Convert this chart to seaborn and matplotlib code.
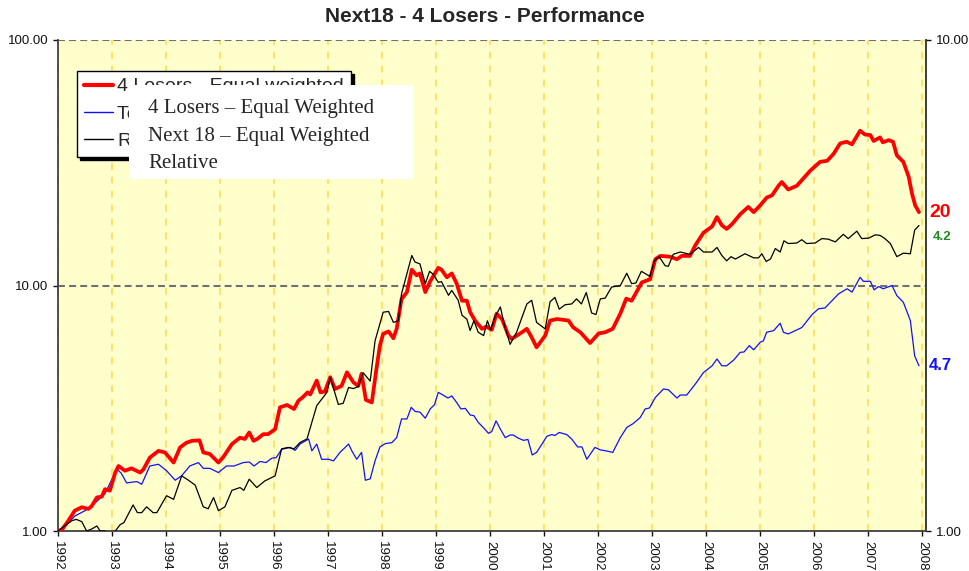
import pandas as pd
import matplotlib
matplotlib.use("Agg")
import matplotlib.pyplot as plt
import seaborn as sns
from matplotlib.patches import Rectangle
from matplotlib.ticker import FixedLocator, NullLocator, FormatStrFormatter
from matplotlib.lines import Line2D

# --- data (decimal years, index levels) ---
losers_t = [1992.00, 1992.07, 1992.19, 1992.31, 1992.44, 1992.56, 1992.62, 1992.72, 1992.81, 1992.87,
            1992.96, 1993.06, 1993.12, 1993.24, 1993.36, 1993.52, 1993.58, 1993.70, 1993.86, 1993.98,
            1994.14, 1994.26, 1994.38, 1994.48, 1994.62, 1994.69, 1994.81, 1994.97, 1995.06, 1995.22,
            1995.37, 1995.46, 1995.54, 1995.62, 1995.70, 1995.80, 1995.89, 1996.02, 1996.11, 1996.24,
            1996.37, 1996.45, 1996.54, 1996.62, 1996.67, 1996.79, 1996.86, 1996.94, 1997.04, 1997.13,
            1997.25, 1997.35, 1997.47, 1997.56, 1997.62, 1997.70, 1997.81, 1997.90, 1997.96, 1998.02,
            1998.12, 1998.21, 1998.27, 1998.36, 1998.46, 1998.55, 1998.64, 1998.70, 1998.80, 1998.89,
            1999.04, 1999.10, 1999.20, 1999.29, 1999.38, 1999.48, 1999.57, 1999.63, 1999.72, 1999.85,
            1999.93, 2000.03, 2000.12, 2000.22, 2000.34, 2000.40, 2000.59, 2000.68, 2000.77, 2000.86,
            2001.02, 2001.11, 2001.24, 2001.45, 2001.54, 2001.67, 2001.85, 2002.01, 2002.13, 2002.27,
            2002.41, 2002.52, 2002.62, 2002.72, 2002.81, 2002.96, 2003.06, 2003.15, 2003.33, 2003.46,
            2003.55, 2003.70, 2003.80, 2003.95, 2004.11, 2004.20, 2004.29, 2004.38, 2004.48, 2004.63,
            2004.78, 2004.88, 2005.00, 2005.12, 2005.22, 2005.34, 2005.40, 2005.52, 2005.68, 2005.80,
            2005.93, 2006.11, 2006.24, 2006.36, 2006.48, 2006.60, 2006.70, 2006.85, 2006.94, 2007.04,
            2007.10, 2007.22, 2007.27, 2007.38, 2007.46, 2007.53, 2007.65, 2007.75, 2007.81, 2007.87,
            2007.94]
losers_v = [1.00, 1.01, 1.10, 1.21, 1.25, 1.23, 1.26, 1.37, 1.38, 1.48,
            1.46, 1.73, 1.84, 1.76, 1.80, 1.73, 1.78, 1.99, 2.12, 2.09,
            1.90, 2.19, 2.29, 2.33, 2.34, 2.09, 2.06, 1.90, 2.00, 2.26,
            2.40, 2.37, 2.52, 2.33, 2.38, 2.48, 2.48, 2.60, 3.19, 3.26,
            3.14, 3.39, 3.52, 3.67, 3.60, 4.10, 3.67, 3.70, 4.23, 3.79,
            3.90, 4.43, 4.03, 3.90, 4.37, 3.42, 3.34, 4.65, 5.70, 6.35,
            6.50, 6.10, 6.66, 8.80, 9.40, 11.6, 11.0, 11.2, 9.40, 10.4,
            11.8, 11.6, 10.8, 11.2, 10.2, 8.67, 8.67, 7.80, 7.20, 6.66,
            6.80, 6.60, 7.68, 7.30, 6.25, 6.06, 6.45, 6.66, 6.15, 5.60,
            6.25, 7.20, 7.30, 7.20, 6.75, 6.45, 5.83, 6.38, 6.45, 6.66,
            7.68, 8.84, 8.67, 9.50, 10.3, 10.6, 12.8, 13.2, 13.1, 12.8,
            13.2, 13.2, 14.6, 16.4, 17.4, 19.0, 17.6, 17.0, 17.8, 19.5,
            20.9, 19.9, 21.2, 22.8, 23.3, 25.5, 26.4, 24.6, 25.5, 27.3,
            29.4, 31.9, 32.2, 34.4, 37.9, 38.5, 37.6, 42.7, 41.2, 41.0,
            38.8, 40.1, 38.3, 39.1, 38.5, 33.9, 31.9, 27.7, 23.7, 21.2,
            19.9]

next18_t = [1992.00, 1992.19, 1992.31, 1992.50, 1992.72, 1992.87, 1993.09, 1993.17, 1993.27, 1993.46,
            1993.55, 1993.70, 1993.86, 1994.01, 1994.17, 1994.29, 1994.44, 1994.60, 1994.69, 1994.81,
            1994.97, 1995.12, 1995.26, 1995.43, 1995.54, 1995.63, 1995.74, 1995.85, 1995.96, 1996.04,
            1996.14, 1996.30, 1996.39, 1996.48, 1996.64, 1996.70, 1996.79, 1996.88, 1997.01, 1997.10,
            1997.22, 1997.38, 1997.44, 1997.53, 1997.62, 1997.69, 1997.78, 1997.87, 1997.96, 1998.06,
            1998.18, 1998.27, 1998.36, 1998.46, 1998.54, 1998.61, 1998.70, 1998.80, 1998.89, 1998.97,
            1999.04, 1999.11, 1999.22, 1999.29, 1999.38, 1999.46, 1999.54, 1999.63, 1999.70, 1999.78,
            1999.88, 1999.97, 2000.03, 2000.11, 2000.19, 2000.28, 2000.37, 2000.43, 2000.52, 2000.62,
            2000.70, 2000.78, 2000.86, 2000.96, 2001.05, 2001.14, 2001.20, 2001.28, 2001.42, 2001.51,
            2001.62, 2001.70, 2001.79, 2001.94, 2002.04, 2002.15, 2002.27, 2002.41, 2002.53, 2002.65,
            2002.78, 2002.87, 2002.95, 2003.06, 2003.21, 2003.30, 2003.46, 2003.52, 2003.64, 2003.80,
            2003.95, 2004.11, 2004.20, 2004.29, 2004.38, 2004.51, 2004.63, 2004.70, 2004.80, 2004.88,
            2005.00, 2005.06, 2005.12, 2005.25, 2005.37, 2005.43, 2005.52, 2005.68, 2005.77, 2005.96,
            2006.08, 2006.20, 2006.45, 2006.61, 2006.70, 2006.85, 2006.91, 2007.04, 2007.11, 2007.19,
            2007.28, 2007.44, 2007.53, 2007.65, 2007.78, 2007.86, 2007.94]
next18_v = [1.00, 1.08, 1.15, 1.21, 1.32, 1.42, 1.79, 1.72, 1.57, 1.59,
            1.55, 1.84, 1.87, 1.76, 1.61, 1.68, 1.84, 1.90, 1.80, 1.80,
            1.73, 1.84, 1.84, 1.90, 1.91, 1.84, 1.92, 1.90, 1.98, 1.99,
            2.15, 2.19, 2.13, 2.26, 2.37, 2.12, 2.26, 1.96, 1.96, 1.93,
            2.09, 2.26, 2.12, 1.96, 2.09, 1.61, 1.63, 1.93, 2.20, 2.27,
            2.29, 2.40, 2.86, 2.86, 3.19, 3.07, 3.05, 2.88, 3.14, 3.27,
            3.67, 3.60, 3.48, 3.55, 3.34, 3.14, 3.16, 2.97, 2.95, 2.77,
            2.63, 2.50, 2.54, 2.81, 2.60, 2.40, 2.46, 2.46, 2.39, 2.34,
            2.36, 2.04, 2.09, 2.26, 2.43, 2.47, 2.45, 2.52, 2.47, 2.37,
            2.20, 2.20, 1.96, 2.19, 2.14, 2.12, 2.09, 2.40, 2.64, 2.74,
            2.90, 3.14, 3.17, 3.50, 3.79, 3.76, 3.48, 3.58, 3.58, 3.97,
            4.42, 4.71, 5.02, 4.71, 4.71, 4.97, 5.34, 5.36, 5.69, 5.47,
            5.87, 5.95, 6.45, 6.55, 7.02, 6.45, 6.35, 6.60, 6.74, 7.61,
            8.04, 8.10, 9.24, 9.70, 9.40, 10.8, 10.4, 10.4, 9.6, 9.9,
            9.7, 10.0, 9.1, 8.55, 7.2, 5.17, 4.71]

relative_t = [1992.00, 1992.15, 1992.26, 1992.34, 1992.44, 1992.53, 1992.63, 1992.72, 1992.78, 1992.87,
              1992.96, 1993.06, 1993.15, 1993.22, 1993.39, 1993.47, 1993.55, 1993.64, 1993.76, 1993.83,
              1994.01, 1994.14, 1994.29, 1994.41, 1994.54, 1994.69, 1994.78, 1994.88, 1994.97, 1995.09,
              1995.22, 1995.37, 1995.44, 1995.54, 1995.68, 1995.83, 1996.02, 1996.14, 1996.26, 1996.37,
              1996.48, 1996.61, 1996.79, 1996.98, 1997.04, 1997.19, 1997.28, 1997.38, 1997.47, 1997.56,
              1997.65, 1997.78, 1997.87, 1998.02, 1998.12, 1998.21, 1998.30, 1998.36, 1998.55, 1998.61,
              1998.70, 1998.80, 1998.88, 1998.95, 1999.04, 1999.10, 1999.23, 1999.29, 1999.41, 1999.48,
              1999.57, 1999.63, 1999.70, 1999.78, 1999.88, 1999.95, 2000.01, 2000.09, 2000.19, 2000.26,
              2000.37, 2000.49, 2000.68, 2000.77, 2000.86, 2001.02, 2001.11, 2001.20, 2001.28, 2001.39,
              2001.51, 2001.60, 2001.69, 2001.78, 2001.88, 2001.96, 2002.04, 2002.13, 2002.25, 2002.41,
              2002.53, 2002.62, 2002.70, 2002.80, 2002.96, 2003.04, 2003.13, 2003.24, 2003.30, 2003.39,
              2003.52, 2003.70, 2003.86, 2003.95, 2004.11, 2004.20, 2004.29, 2004.38, 2004.46, 2004.54,
              2004.72, 2004.88, 2004.97, 2005.03, 2005.11, 2005.19, 2005.28, 2005.37, 2005.44, 2005.52,
              2005.68, 2005.77, 2005.86, 2006.02, 2006.14, 2006.26, 2006.39, 2006.54, 2006.63, 2006.79,
              2006.88, 2007.01, 2007.13, 2007.22, 2007.31, 2007.41, 2007.53, 2007.65, 2007.78, 2007.86,
              2007.94]
relative_v = [1.00, 1.03, 1.05, 1.056, 1.045, 1.00, 1.01, 1.024, 1.00, 1.00,
              0.97, 1.00, 1.03, 1.04, 1.13, 1.09, 1.09, 1.12, 1.09, 1.09,
              1.18, 1.16, 1.295, 1.27, 1.24, 1.12, 1.11, 1.17, 1.10, 1.12,
              1.21, 1.226, 1.21, 1.275, 1.226, 1.265, 1.295, 1.47, 1.48, 1.47,
              1.514, 1.54, 1.80, 1.916, 2.055, 1.81, 1.82, 1.96, 1.95, 1.97,
              2.10, 2.02, 2.44, 2.79, 2.80, 2.66, 2.68, 3.04, 3.64, 3.53,
              3.50, 3.19, 3.38, 3.33, 3.21, 3.22, 3.02, 3.09, 2.95, 2.75,
              2.70, 2.56, 2.68, 2.54, 2.50, 2.68, 2.57, 2.73, 2.86, 2.64,
              2.40, 2.54, 2.90, 2.95, 2.66, 2.58, 2.93, 2.99, 2.83, 2.89,
              2.90, 2.97, 2.90, 3.06, 2.78, 2.76, 2.97, 2.98, 3.14, 3.16,
              3.35, 3.19, 3.20, 3.38, 3.30, 3.55, 3.62, 3.47, 3.46, 3.66,
              3.70, 3.66, 3.78, 3.70, 3.70, 3.78, 3.64, 3.55, 3.62, 3.58,
              3.67, 3.60, 3.60, 3.67, 3.54, 3.58, 3.76, 3.70, 3.90, 3.85,
              3.86, 3.92, 3.85, 3.86, 3.94, 3.93, 3.88, 4.02, 3.94, 4.08,
              3.94, 3.95, 4.01, 4.00, 3.94, 3.85, 3.62, 3.68, 3.67, 4.10,
              4.19]

years = list(range(1992, 2009))
legend_labels = ["4 Losers - Equal weighted", "Total - Equal weighted", "Relative"]
box_lines = ["4 Losers \u2013 Equal Weighted", "Next 18 \u2013 Equal Weighted", "Relative"]

losers = pd.DataFrame({"t": losers_t, "v": losers_v})
next18 = pd.DataFrame({"t": next18_t, "v": next18_v})
relative = pd.DataFrame({"t": relative_t, "v": relative_v})

# --- style ---
sns.set_style("ticks")
plt.rcParams["font.family"] = ["Liberation Sans", "DejaVu Sans"]
plt.rcParams["lines.scale_dashes"] = False

W, H = 970, 571
fig = plt.figure(figsize=(W / 100, H / 100), dpi=100)
fig.patch.set_facecolor("white")

def fx(px):
    return px / W

def fy(py):
    return 1 - py / H

ax = fig.add_axes([fx(58), fy(531), fx(926) - fx(58), fy(40) - fy(531)])
ax.set_facecolor("#FFFFCC")

sns.lineplot(data=losers, x="t", y="v", ax=ax, color="#FF0000", lw=2.7, estimator=None, sort=False, zorder=4)
sns.lineplot(data=next18, x="t", y="v", ax=ax, color="#1010FF", lw=0.9, estimator=None, sort=False, zorder=3)

ax.set_yscale("log")
ax.set_ylim(1, 100)
ax.set_xlim(1992, 2008.07)
ax.set_xlabel("")
ax.set_ylabel("")

# grid: yellow dashed verticals at each year, grey dashed horizontals at decades
for yr in years:
    ax.axvline(yr, color="#FFD84D", lw=1.1, ls=(0, (5, 5)), zorder=1)
for lv in [10, 100]:
    ax.axhline(lv, color="#707070", lw=1.5, ls=(0, (5, 3)), zorder=2)

ax.xaxis.set_major_locator(FixedLocator(years))
ax.set_xticklabels([str(y) for y in years], rotation=270, fontsize=9.5)
ax.yaxis.set_major_locator(FixedLocator([1, 10, 100]))
ax.yaxis.set_minor_locator(NullLocator())
ax.yaxis.set_major_formatter(FormatStrFormatter("%.2f"))
ax.tick_params(axis="both", direction="out", length=3.6, width=1, pad=3.5, labelsize=9.5, colors="#111111")

for side in ["left", "bottom", "right"]:
    ax.spines[side].set_color("#404040")
    ax.spines[side].set_linewidth(1.3)
ax.spines["top"].set_visible(False)

# relative series on the right-hand log axis
ax2 = ax.twinx()
sns.lineplot(data=relative, x="t", y="v", ax=ax2, color="black", lw=0.9, estimator=None, sort=False)
ax2.set_yscale("log")
ax2.set_ylim(1, 10)
ax2.set_xlim(1992, 2008.07)
ax2.set_ylabel("")
ax2.yaxis.set_major_locator(FixedLocator([1, 10]))
ax2.yaxis.set_minor_locator(NullLocator())
ax2.yaxis.set_major_formatter(FormatStrFormatter("%.2f"))
ax2.tick_params(axis="y", direction="out", length=3.6, width=1, pad=3.5, labelsize=9.5, colors="#111111")
ax2.spines["top"].set_visible(False)
ax2.spines["right"].set_color("#404040")
ax2.spines["right"].set_linewidth(1.3)
ax2.spines["left"].set_visible(False)
ax2.spines["bottom"].set_visible(False)

# end-of-line value labels
ax.annotate("20", xy=(losers_t[-1], losers_v[-1]), xytext=(10, 0), textcoords="offset pixels",
            color="#FF0000", fontsize=14, fontweight="bold", va="center", ha="left", annotation_clip=False)
ax.annotate("4.7", xy=(next18_t[-1], next18_v[-1]), xytext=(10, 0), textcoords="offset pixels",
            color="#1010FF", fontsize=12, fontweight="bold", va="center", ha="left", annotation_clip=False)
ax2.annotate("4.2", xy=(relative_t[-1], relative_v[-1]), xytext=(14, -12), textcoords="offset pixels",
             color="#1E8B1E", fontsize=9.5, fontweight="bold", va="center", ha="left", annotation_clip=False)

# legend (mostly hidden behind the white text box, as in the original)
handles = [Line2D([], [], color="#FF0000", lw=3),
           Line2D([], [], color="#1010FF", lw=1),
           Line2D([], [], color="black", lw=1)]
leg = ax2.legend(handles, legend_labels, loc="upper left", bbox_to_anchor=(fx(77), fy(71)),
                 bbox_transform=fig.transFigure, borderaxespad=0, fontsize=14, frameon=True,
                 fancybox=False, shadow={"color": "black", "alpha": 1}, handlelength=1.5,
                 handletextpad=0.22, borderpad=0.35, labelspacing=0.5)
leg.get_frame().set_edgecolor("black")
leg.get_frame().set_linewidth(1)
leg.get_frame().set_facecolor("white")
leg.get_frame().set_alpha(1)

# white text box pasted over the legend
fig.add_artist(Rectangle((fx(129), fy(179)), fx(414) - fx(129), fy(85) - fy(179),
                         transform=fig.transFigure, facecolor="white", edgecolor="none", zorder=5))
for i, line in enumerate(box_lines):
    fig.text(fx(148), fy(108 + 28 * i), line, family=["Liberation Serif", "DejaVu Serif"],
             fontsize=15, va="center", ha="left", zorder=6)

fig.text(0.5, fy(17), "Next18 - 4 Losers - Performance", ha="center", va="center",
         fontsize=15, fontweight="bold")

fig.savefig("out.png", dpi=100)
